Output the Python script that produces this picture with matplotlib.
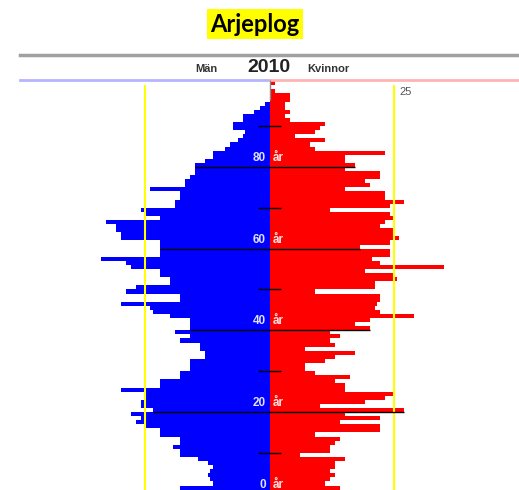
import matplotlib
matplotlib.use("Agg")
import matplotlib.pyplot as plt
from matplotlib.lines import Line2D
import numpy as np

# befolkning per ettårsklass, Arjeplog 2010
ages = np.arange(0, 101)
men = [17, 18, 11.5, 12, 12.4, 12, 11.4, 12.4, 14.4, 18,
       18, 19.4, 18, 18, 22, 22, 25, 27, 26, 28,
       23.4, 26, 26, 25, 25, 30, 22, 22, 18, 18,
       16, 16, 16, 13, 13, 14, 14, 18, 16, 19,
       16, 16, 16, 20, 23.4, 24, 30, 18, 18, 29,
       27, 20, 20, 22, 22, 28, 29, 34, 22, 22,
       22, 22, 30, 30, 31, 31, 33, 22, 25, 26,
       19, 19, 18, 18, 24, 17, 17, 16, 15, 15,
       15, 13, 11.4, 11.4, 9, 8, 6.4, 5.5, 5, 7.4,
       7.4, 5.4, 5.4, 3.3, 2, 1, 0, 0, 0, 0,
       0]
women = [12, 14, 11, 12, 13, 12, 13, 13, 15, 6,
         12, 12, 13, 14, 9, 22, 22, 14, 22, 15,
         27, 10, 19, 23, 25, 15, 15, 13, 16, 9,
         7, 7, 11, 13, 17, 7, 13, 12, 14, 12,
         20, 17, 20, 29, 22, 21, 21.5, 22, 22, 9,
         21, 21, 25.5, 25, 19, 35, 22, 20.5, 24, 24,
         18, 24, 26, 25, 25, 22, 23, 25, 24, 12,
         24, 27, 23, 23, 15, 20, 19, 22, 22, 15,
         17, 15, 15, 23, 9, 8, 11, 5, 9, 10,
         11, 4, 3, 4, 3, 3, 4, 4, 1, 0,
         1]
label_ages = [0, 20, 40, 60, 80]
tick_ages = [10, 30, 50, 70, 90]

fig = plt.figure(figsize=(5.19, 4.9), dpi=100)
ax = fig.add_axes([20/519, 0, 499/519, 410/490])

ax.barh(ages, -np.array(men), height=1, align='edge', color='#0000ff', linewidth=0)
ax.barh(ages, women, height=1, align='edge', color='#ff0000', linewidth=0)

# gula referenslinjer vid 25
ax.vlines([-25, 25], 0, 100, color='#ffff00', lw=1.5, zorder=3)
ax.text(25.9, 98.3, '25', color='#555555', fontsize=8, va='center',
        family='Liberation Sans')

# mittlinje upptill
ax.vlines(0, 96.5, 101.3, color='#888888', lw=1, zorder=4)

# linjer vid jämna 20-tal
for a in label_ages[1:]:
    ax.hlines(a, -men[a], women[a], color='black', lw=1, zorder=4)
for a in tick_ages:
    ax.hlines(a, -2.4, 2.2, color='black', lw=1, zorder=4)

for a in label_ages:
    ax.text(-0.8, a + 2.2, str(a), color='#dde0ff', fontsize=8.5, fontweight='bold',
            ha='right', va='center', family='Liberation Sans', zorder=5)
    ax.text(0.6, a + 2.2, 'år', color='#ffe0e0', fontsize=8.5, fontweight='bold',
            ha='left', va='center', family='Liberation Sans', zorder=5)

# färgade linjer överst
ax.plot([-50.2, 0], [101.3, 101.3], color='#b4b4ff', lw=2, clip_on=False)
ax.plot([0, 50], [101.3, 101.3], color='#ffb4b4', lw=2, clip_on=False)

ax.set_xlim(-50.2, 50)
ax.set_ylim(0.9, 101.3)
ax.axis('off')

# rubriker
fig.add_artist(Line2D([20/519, 1], [1 - 55/490, 1 - 55/490], color='#a0a0a0', lw=2.5))
fig.text(255/519, 1 - 24/490, 'Arjeplog', fontsize=17, fontweight='bold', family='Lato',
         ha='center', va='center',
         bbox=dict(facecolor='#ffff00', edgecolor='none', pad=2.5))
fig.text(206/519, 1 - 69/490, 'Män', fontsize=8, fontweight='bold', color='#333333',
         ha='center', va='center', family='Liberation Sans')
fig.text(269/519, 1 - 68/490, '2010', fontsize=14, fontweight='bold', color='#222222',
         ha='center', va='center', family='Liberation Sans')
fig.text(307/519, 1 - 69/490, 'Kvinnor', fontsize=8, fontweight='bold', color='#333333',
         ha='left', va='center', family='Liberation Sans')

fig.savefig('out.png', dpi=100)
